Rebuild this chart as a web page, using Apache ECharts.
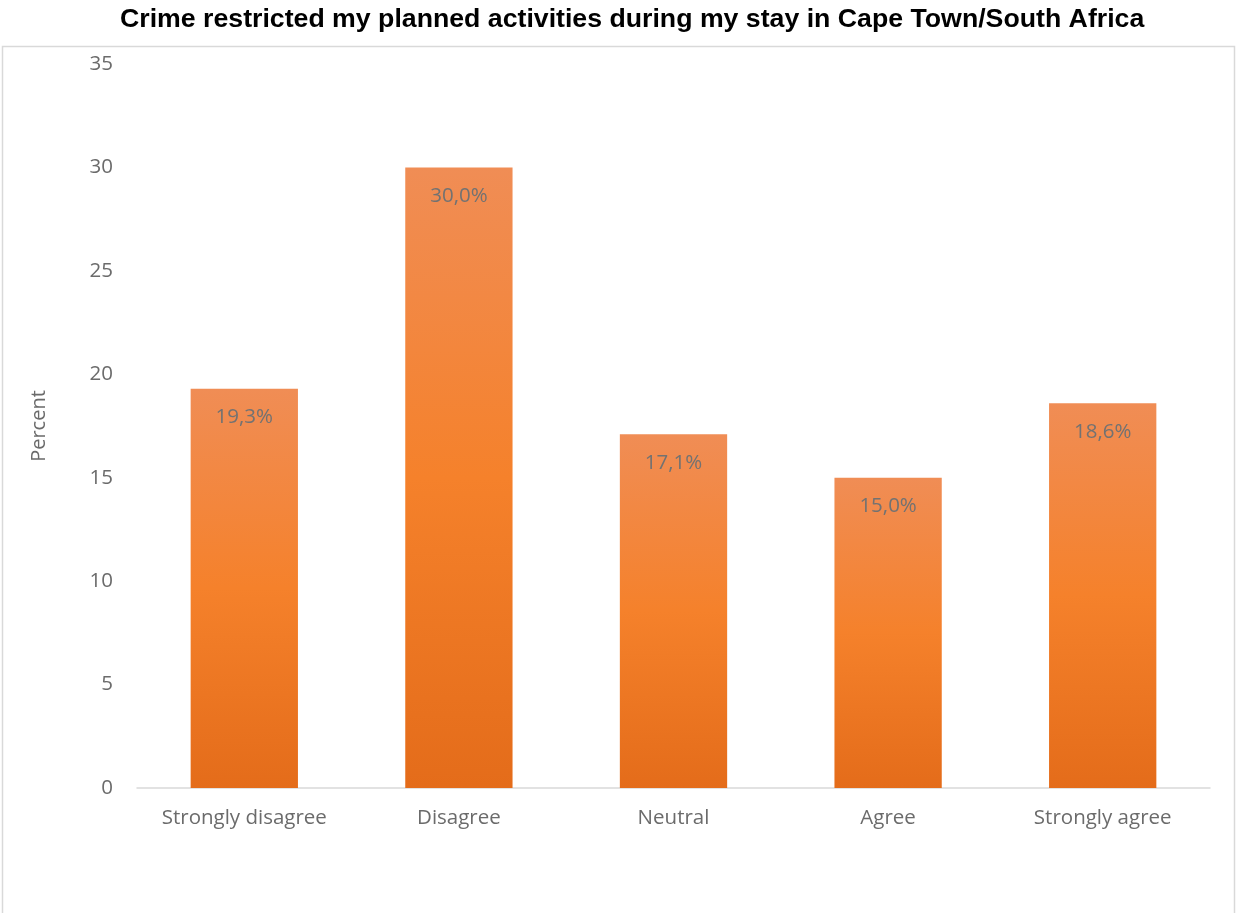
<!DOCTYPE html>
<html>
<head>
<meta charset="utf-8">
<title>Crime restricted my planned activities</title>
<script src="https://cdn.jsdelivr.net/npm/echarts@6/dist/echarts.min.js"></script>
<style>
  html, body { margin: 0; padding: 0; background: #ffffff; }
  #chart { width: 1236px; height: 913px; }
</style>
</head>
<body>
<div id="chart"></div>
<script>
// Survey responses (share of respondents, %)
const categories = ['Strongly disagree', 'Disagree', 'Neutral', 'Agree', 'Strongly agree'];
const percentValues = [19.3, 30.0, 17.1, 15.0, 18.6];
const yTicks = { min: 0, max: 35, interval: 5 };

const chart = echarts.init(document.getElementById('chart'), null, { renderer: 'canvas' });

const barGradient = new echarts.graphic.LinearGradient(0, 0, 0, 1, [
  { offset: 0, color: '#F08D55' },
  { offset: 0.5, color: '#F5812B' },
  { offset: 1, color: '#E46C1A' }
]);

const textFont = 'Open Sans, sans-serif';
const textGray = '#6b6b6b';

const option = {
  backgroundColor: '#ffffff',
  animation: false,
  title: {
    text: 'Crime restricted my planned activities during my stay in Cape Town/South Africa',
    left: 115,
    top: 1,
    textStyle: {
      fontFamily: 'Liberation Sans, Arial, sans-serif',
      fontWeight: 'bold',
      fontSize: 26.7,
      color: '#000000'
    }
  },
  graphic: [{
    type: 'rect',
    shape: { x: 2.5, y: 46.5, width: 1232, height: 880 },
    style: { fill: 'none', stroke: '#d9d9d9', lineWidth: 1.5 },
    silent: true,
    z: -1
  }],
  grid: {
    left: 137,
    right: 26,
    top: 64,
    bottom: 125,
    containLabel: false
  },
  xAxis: {
    type: 'category',
    data: categories,
    axisLine: { show: true, lineStyle: { color: '#d9d9d9', width: 1.5 } },
    axisTick: { show: false },
    axisLabel: {
      interval: 0,
      color: textGray,
      fontFamily: textFont,
      fontSize: 20.5,
      margin: 20
    }
  },
  yAxis: {
    type: 'value',
    min: yTicks.min,
    max: yTicks.max,
    interval: yTicks.interval,
    name: 'Percent',
    nameLocation: 'middle',
    nameGap: 88,
    nameRotate: 90,
    nameTextStyle: {
      color: textGray,
      fontFamily: textFont,
      fontSize: 20
    },
    axisLine: { show: false },
    axisTick: { show: false },
    splitLine: { show: false },
    axisLabel: {
      color: textGray,
      fontFamily: textFont,
      fontSize: 20.5,
      margin: 24
    }
  },
  series: [{
    type: 'bar',
    data: percentValues,
    barWidth: '50%',
    itemStyle: { color: barGradient },
    label: {
      show: true,
      position: 'insideTop',
      distance: 18,
      color: '#727272',
      fontFamily: textFont,
      fontSize: 20.5,
      formatter: p => p.value.toFixed(1).replace('.', ',') + '%'
    }
  }]
};

chart.setOption(option);
</script>
</body>
</html>
